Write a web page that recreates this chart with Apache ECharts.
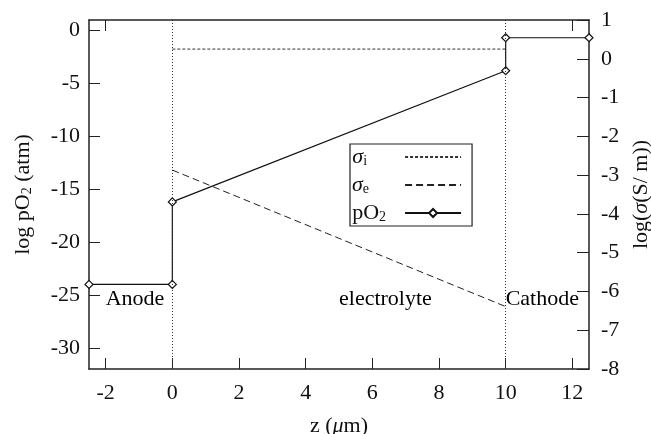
<!DOCTYPE html>
<html>
<head>
<meta charset="utf-8">
<script src="https://cdn.jsdelivr.net/npm/echarts@6/dist/echarts.min.js"></script>
<style>html,body{margin:0;padding:0;background:#fff}#c{width:651px;height:434px}</style>
</head>
<body>
<div id="c"></div>
<script>
// ---- data ----
const xTicks = [-2, 0, 2, 4, 6, 8, 10, 12];
const xTopTicks = [-2, 12];
const leftTicks = [0, -5, -10, -15, -20, -25, -30];
const zPO2 = [-2.5, 0, 0, 10, 10, 12.5];
const logPO2 = [-24, -24, -16.2, -3.8, -0.68, -0.68];
const zSigmaI = [0, 10];
const logSigmaI = [0.25, 0.25];
const zSigmaE = [0, 10];
const logSigmaE = [-2.87, -6.39];
const boundaries = [0, 10];
const regionNames = ['Anode', 'electrolyte', 'Cathode'];
const regionX = [-2, 5, 10];
const regionY = [-25.4, -25.4, -25.4];

const FONT = 'Liberation Serif';
const FS = 22;
const INK = '#111';
const AX = '#222';

const rich = {
  n: {fontFamily: FONT, fontSize: FS, color: INK, lineHeight: 22},
  s: {fontFamily: FONT, fontSize: FS, color: INK, fontStyle: 'italic', lineHeight: 22},
  sub: {fontFamily: FONT, fontSize: 14, color: INK, lineHeight: 8, verticalAlign: 'bottom'},
  p1: {width: 33, lineHeight: 22},
  p2: {width: 31, lineHeight: 22},
  p3: {width: 14, lineHeight: 22}
};

const pair = (xs, ys) => xs.map((x, i) => [x, ys[i]]);

const chart = echarts.init(document.getElementById('c'), null, {renderer: 'canvas'});
const legendNames = {
  sigma_i: '{s|σ}{sub|i}{p1|}',
  sigma_e: '{s|σ}{sub|e}{p2|}',
  pO2: '{n|pO}{sub|2}{p3|}'
};

chart.setOption({
  animation: false,
  backgroundColor: '#fff',
  grid: {left: 89, right: 62, top: 20, bottom: 65, outerBoundsMode: 'none', containLabel: false},
  legend: {
    data: [
      {name: 'sigma_i', itemStyle: {opacity: 0}},
      {name: 'sigma_e', itemStyle: {opacity: 0}},
      {name: 'pO2'}
    ],
    left: 350, top: 144,
    orient: 'vertical', align: 'right',
    itemWidth: 56, itemHeight: 10, itemGap: 6,
    padding: [2, 10, 2, 2],
    borderColor: AX, borderWidth: 1.2, backgroundColor: '#fff',
    formatter: name => legendNames[name],
    textStyle: {fontFamily: FONT, fontSize: FS, color: INK, rich: rich}
  },
  xAxis: [{
    type: 'value', min: -2.5, max: 12.5, position: 'bottom',
    name: '{n|z (}{s|μ}{n|m)}', nameLocation: 'middle', nameGap: 46,
    nameTextStyle: {rich: rich},
    axisLine: {show: true, onZero: false, lineStyle: {color: AX, width: 1.5}},
    axisTick: {show: true, inside: true, length: 11, customValues: xTicks, lineStyle: {color: AX}},
    axisLabel: {customValues: xTicks, fontFamily: FONT, fontSize: FS, color: INK, margin: 13},
    splitLine: {show: false}
  }, {
    type: 'value', min: -2.5, max: 12.5, position: 'top',
    axisLine: {show: true, onZero: false, lineStyle: {color: AX, width: 1.5}},
    axisTick: {show: true, inside: true, length: 11, customValues: xTopTicks, lineStyle: {color: AX}},
    axisLabel: {show: false},
    splitLine: {show: false}
  }],
  yAxis: [{
    type: 'value', min: -32, max: 1, position: 'left',
    name: '{n|log pO}{sub|2}{n| (atm)}', nameLocation: 'middle', nameRotate: 90, nameGap: 55,
    nameTextStyle: {rich: rich},
    axisLine: {show: true, onZero: false, lineStyle: {color: AX, width: 1.5}},
    axisTick: {show: true, inside: true, length: 11, customValues: leftTicks, lineStyle: {color: AX}},
    axisLabel: {customValues: leftTicks, fontFamily: FONT, fontSize: FS, color: INK, margin: 9},
    splitLine: {show: false}
  }, {
    type: 'value', min: -8, max: 1, interval: 1, position: 'right',
    name: '{n|log(}{s|σ}{n|(S/ m))}', nameLocation: 'middle', nameRotate: 90, nameGap: 40,
    nameTextStyle: {rich: rich},
    axisLine: {show: true, onZero: false, lineStyle: {color: AX, width: 1.5}},
    axisTick: {show: true, inside: true, length: 12, lineStyle: {color: AX}},
    axisLabel: {fontFamily: FONT, fontSize: FS, color: INK, margin: 12},
    splitLine: {show: false}
  }],
  series: [{
    name: 'sigma_i', type: 'line', xAxisIndex: 0, yAxisIndex: 1,
    data: pair(zSigmaI, logSigmaI), symbol: 'none',
    lineStyle: {color: '#333', width: 1, type: [3, 2]},
    itemStyle: {color: '#333'},
    markLine: {
      silent: true, symbol: 'none', label: {show: false},
      lineStyle: {color: '#333', width: 1, type: [1, 2]},
      data: boundaries.map(b => ({xAxis: b}))
    }
  }, {
    name: 'sigma_e', type: 'line', xAxisIndex: 0, yAxisIndex: 1,
    data: pair(zSigmaE, logSigmaE), symbol: 'none',
    lineStyle: {color: '#222', width: 1, type: [7, 4]},
    itemStyle: {color: '#222'}
  }, {
    name: 'pO2', type: 'line', xAxisIndex: 0, yAxisIndex: 0,
    data: pair(zPO2, logPO2), symbol: 'diamond', symbolSize: 8, showAllSymbol: true,
    lineStyle: {color: '#111', width: 1.2},
    itemStyle: {color: '#fff', borderColor: '#111', borderWidth: 1.2}
  }, {
    name: 'regions', type: 'scatter', xAxisIndex: 0, yAxisIndex: 0,
    data: regionX.map((x, i) => ({value: [x, regionY[i]], name: regionNames[i]})),
    symbolSize: 0, itemStyle: {color: '#000', opacity: 1}, silent: true,
    label: {show: true, position: 'right', distance: 0, formatter: p => p.name,
      fontFamily: FONT, fontSize: FS, color: '#000', opacity: 1}
  }]
});
</script>
</body>
</html>
